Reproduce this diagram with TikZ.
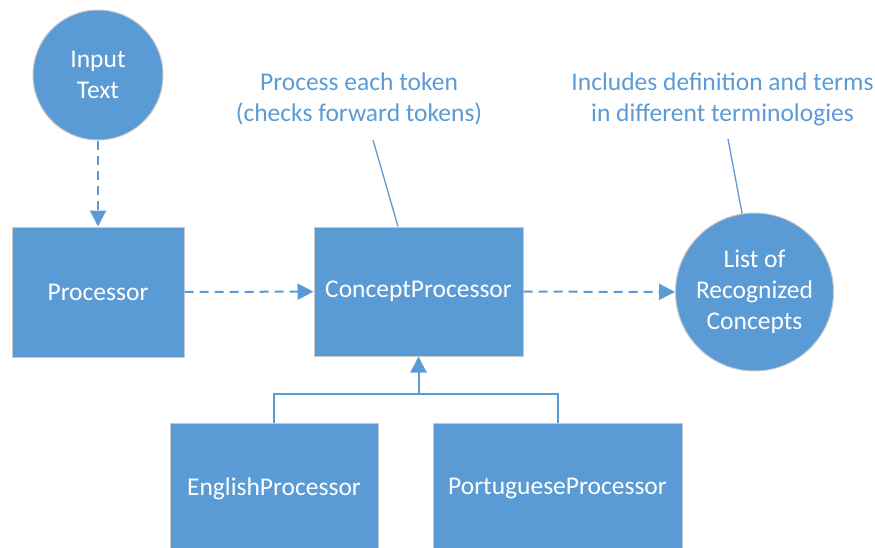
\documentclass[tikz,border=0pt]{standalone}
\usepackage{fontspec}
\setmainfont{Carlito}
\usetikzlibrary{arrows.meta,calc}
\definecolor{vblue}{HTML}{5B9BD5}
\definecolor{vedge}{HTML}{C8C8C8}
\tikzset{
  boxnode/.style={draw=vedge,line width=1pt,fill=vblue,text=white,inner sep=0pt,font=\fontsize{25.5}{31}\selectfont,align=center},
  circnode/.style={circle,draw=vedge,line width=1pt,fill=vblue,text=white,inner sep=0pt,font=\fontsize{25.5}{31}\selectfont,align=center},
  notenode/.style={text=vblue,inner sep=0pt,font=\fontsize{25.5}{31}\selectfont,align=center},
  dashflow/.style={draw=vblue,line width=2pt,dash pattern=on 9pt off 6pt,-{Triangle[length=16pt,width=16pt]}},
  solidflow/.style={draw=vblue,line width=2pt,-{Triangle[length=16pt,width=16pt]}},
  noteline/.style={draw=vblue,line width=1.3pt}
}
\begin{document}
\begin{tikzpicture}[x=1pt,y=-1pt]
\useasboundingbox (0,0) rectangle (875,547);
\clip (0,0) rectangle (875,547);
\node[circnode,minimum size=130pt] (input) at (98,75) {Input\\Text};
\node[boxnode,minimum width=172pt,minimum height=130pt] (proc) at (98,292) {Processor};
\node[boxnode,minimum width=209pt,minimum height=129pt] (cp) at (418.5,291.5) {ConceptProcessor};
\node[circnode,minimum size=158pt] (list) at (754.5,292) {List of\\Recognized\\Concepts};
\node[boxnode,minimum width=208pt,minimum height=130pt] (eng) at (274,488.5) {EnglishProcessor};
\node[boxnode,minimum width=249pt,minimum height=130pt] (por) at (557.5,488.5) {PortugueseProcessor};
\node[notenode] (note1) at (359,99) {Process each token\\(checks forward tokens)};
\node[notenode] (note2) at (722.5,99) {Includes definition and terms\\in different terminologies};
\coordinate (n1) at (373,140);
\coordinate (n2) at (728,139);
\coordinate (join) at (418.5,394);
\draw[dashflow] (input) -- (proc);
\draw[dashflow] (proc) -- (cp);
\draw[dashflow] (cp) -- (list);
\draw[draw=vblue,line width=2pt] (eng.north) |- (join) -| (por.north);
\draw[solidflow] (join) -- (cp.south);
\draw[noteline] (n1) -- ($(cp.north)+(-20.5,0)$);
\draw[noteline] (n2) -- (list.99);
\end{tikzpicture}
\end{document}
